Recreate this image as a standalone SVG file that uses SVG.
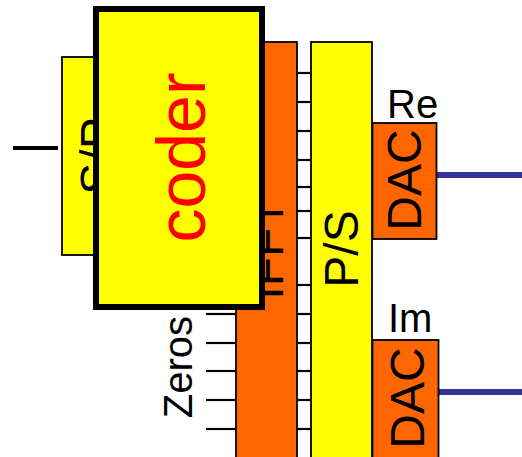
<svg xmlns="http://www.w3.org/2000/svg" width="522" height="457" viewBox="0 0 522 457">
<style>
text{font-family:"Liberation Sans",Arial,sans-serif;}
.box{stroke:#000;stroke-width:1.8;}
.yel{fill:#FFFF00;}
.org{fill:#FF6600;}
.lbl{font-size:48px;fill:#000;text-anchor:middle;}
.tick{stroke:#000;stroke-width:2.2;fill:none;}
.out{stroke:#333399;stroke-width:6;fill:none;}
</style>
<rect width="522" height="457" fill="#fff"/>
<g id="connectors">
<line class="tick" x1="13" y1="148" x2="58" y2="148" style="stroke-width:4"/>
<g class="tick">
<line x1="297" y1="73" x2="311" y2="73"/>
<line x1="297" y1="102" x2="311" y2="102"/>
<line x1="297" y1="131" x2="311" y2="131"/>
<line x1="297" y1="160" x2="311" y2="160"/>
<line x1="297" y1="187" x2="311" y2="187"/>
<line x1="297" y1="211" x2="311" y2="211"/>
<line x1="297" y1="238" x2="311" y2="238"/>
<line x1="297" y1="285" x2="311" y2="285"/>
<line x1="297" y1="314" x2="311" y2="314"/>
<line x1="297" y1="343" x2="311" y2="343"/>
<line x1="297" y1="371" x2="311" y2="371"/>
<line x1="297" y1="400" x2="311" y2="400"/>
<line x1="297" y1="429" x2="311" y2="429"/>
<line x1="206" y1="314" x2="236" y2="314"/>
<line x1="206" y1="343" x2="236" y2="343"/>
<line x1="206" y1="371" x2="236" y2="371"/>
<line x1="206" y1="400" x2="236" y2="400"/>
<line x1="206" y1="429" x2="236" y2="429"/>
</g>
<line class="out" x1="437" y1="175" x2="522" y2="175"/>
<line class="out" x1="439" y1="392" x2="522" y2="392"/>
</g>
<g id="zeros">
<text transform="translate(192,367) rotate(-90)" style="font-size:40px;text-anchor:middle">Zeros</text>
</g>
<g id="ifft">
<rect class="box org" x="236" y="42" width="61" height="430"/>
<text class="lbl" transform="translate(283,249) rotate(-90)">IFFT</text>
</g>
<g id="ps">
<rect class="box yel" x="311" y="42" width="61" height="430"/>
<text class="lbl" transform="translate(358,249) rotate(-90)">P/S</text>
</g>
<g id="dac-re">
<rect class="box org" x="372.5" y="123" width="64" height="116"/>
<text class="lbl" transform="translate(421,180) rotate(-90)">DAC</text>
<text x="387" y="118" style="font-size:40px">Re</text>
</g>
<g id="dac-im">
<rect class="box org" x="372.5" y="340" width="66" height="130"/>
<text class="lbl" transform="translate(424,398) rotate(-90)">DAC</text>
<text x="388" y="332" style="font-size:40px">Im</text>
</g>
<g id="sp">
<rect class="box yel" x="62" y="57" width="62" height="198"/>
<text class="lbl" transform="translate(114,156) rotate(-90)">S/P</text>
</g>
<g id="coder">
<rect class="yel" x="96" y="9" width="166" height="298" stroke="#000" stroke-width="6"/>
<text transform="translate(205,157.5) rotate(-90)" style="font-size:68px;fill:#FF0000;text-anchor:middle">coder</text>
</g>
</svg>
